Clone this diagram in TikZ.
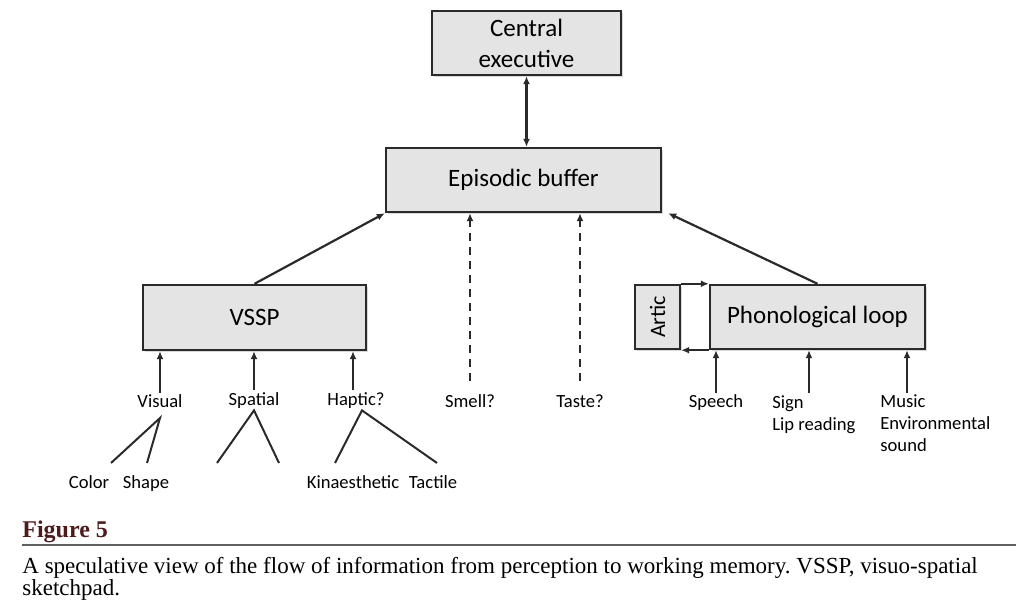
\documentclass[tikz,border=0pt]{standalone}
\usepackage{fontspec}
\setmainfont{Carlito}
\newfontfamily\capfont{Liberation Serif}
\usetikzlibrary{arrows.meta,shadows}
\frenchspacing
\definecolor{boxgray}{HTML}{E4E4E4}
\definecolor{ink}{HTML}{2A2A2A}
\definecolor{figred}{HTML}{4E1B1B}
\tikzset{
	box/.style={draw=ink,fill=boxgray,line width=1.2pt,inner sep=0pt,align=center,
		font=\fontsize{12.5}{15.5}\selectfont,
		drop shadow={shadow xshift=.8pt,shadow yshift=-.8pt,opacity=.3}},
	lab/.style={inner sep=1pt,align=left,font=\fontsize{9.3}{10.8}\selectfont},
	arr/.style={draw=ink,line width=1.1pt,-{Latex[length=4pt,width=3.5pt]}},
	twig/.style={draw=ink,line width=1pt}
}
\begin{document}
\begin{tikzpicture}[x=.5pt,y=-.5pt]
		\useasboundingbox(0,0)rectangle(1016,614);
		\node[box,minimum width=94.5pt,minimum height=32pt](ce)at(526.5,43){Central\\executive};
		\node[box,minimum width=137.5pt,minimum height=32pt](eb)at(523.5,180){Episodic buffer};
		\node[box,minimum width=111.5pt,minimum height=32.5pt](vssp)at(254.5,317.5){VSSP};
		\node[box,minimum width=22.5pt,minimum height=32pt,font=\fontsize{11}{13}\selectfont](artic)at(657.5,317){\rotatebox{90}{Artic}};
		\node[box,minimum width=107.5pt,minimum height=32pt](pl)at(817.5,317){Phonological loop};
		\draw[arr,{Latex[length=4pt,width=3.5pt]}-{Latex[length=4pt,width=3.5pt]}](ce.south)--(ce.south|-eb.north);
		\draw[arr](vssp.north)--(eb.south west);
		\draw[arr](pl.north)--([xshift=3pt]eb.south east);
		\draw[arr](artic.north east)--(pl.north west);
		\draw[arr](pl.south west)--(artic.south east);
		% inputs to the VSSP
		\node[lab,anchor=base](visual)at(160,408){Visual};
		\node[lab,anchor=base](spatial)at(254,405){Spatial};
		\node[lab,anchor=base](haptic)at(356,405){Haptic?};
		\draw[arr](visual.north)--(visual.north|-vssp.south);
		\draw[arr](spatial.north)--(spatial.north|-vssp.south);
		\draw[arr]([xshift=-1.5pt]haptic.north)--([xshift=-1.5pt]haptic.north|-vssp.south);
		\node[lab,anchor=base](color)at(89,488){Color};
		\node[lab,anchor=base](shape)at(146,488){Shape};
		\node[lab,anchor=base](kin)at(353,488){Kinaesthetic};
		\node[lab,anchor=base](tactile)at(433,488){Tactile};
		\coordinate(c1)at(111,463);\coordinate(c2)at(147,463);
		\coordinate(s1)at(217,463);\coordinate(s2)at(279,463);
		\coordinate(k1)at(335,463);\coordinate(k2)at(437,463);
		\draw[twig](c1)--(160,418)--(c2);
		\draw[twig](s1)--(spatial.south)--(s2);
		\draw[twig](k1)--([xshift=3pt]haptic.south)--(k2);
		% smell and taste
		\node[lab,anchor=base](smell)at(470,408){Smell?};
		\node[lab,anchor=base](taste)at(580,408){Taste?};
		\draw[arr,dash pattern=on 4pt off 3pt]([yshift=6pt]smell.north)--(smell.north|-eb.south);
		\draw[arr,dash pattern=on 4pt off 3pt]([yshift=6pt]taste.north)--(taste.north|-eb.south);
		% inputs to the phonological loop (base = last line)
		\node[lab,anchor=base](speech)at(716,408){Speech};
		\node[lab,anchor=base west](sign)at(770,430){Sign\\Lip reading};
		\node[lab,anchor=base west](music)at(878,451){Music\\Environmental\\sound};
		\coordinate(signin)at(809,393);\coordinate(musicin)at(907,393);
		\draw[arr](speech.north)--(speech.north|-pl.south);
		\draw[arr](signin)--(signin|-pl.south);
		\draw[arr](musicin)--(musicin|-pl.south);
		% caption
		\node[anchor=base west,inner sep=0pt,text=figred,font=\capfont\bfseries\fontsize{12}{14}\selectfont](fig)at(22,537){Figure 5};
		\draw[ink!75,line width=.6pt](22,545)--(1016,545);
		\node[anchor=base west,inner sep=0pt,align=left,font=\capfont\fontsize{11.5}{11}\selectfont](cap)at(22,595){A speculative view of the flow of information from perception to working memory. VSSP, visuo-spatial\\sketchpad.};
	\end{tikzpicture}
\end{document}
